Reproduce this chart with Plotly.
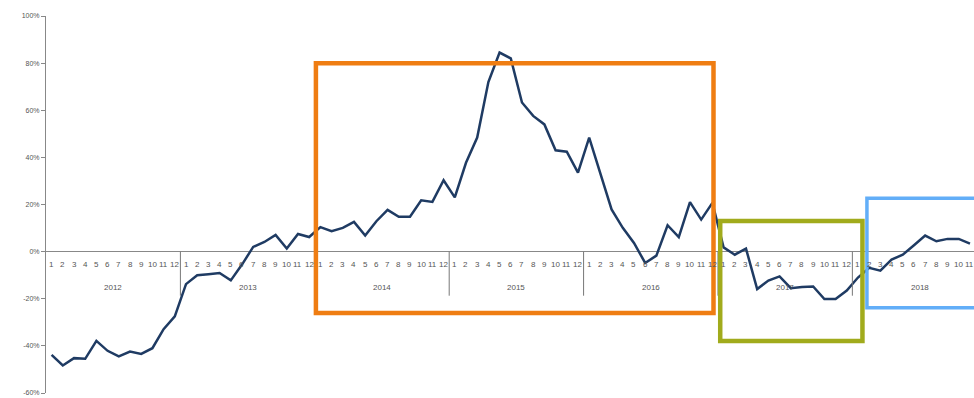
import plotly.graph_objects as go

years = ["2012", "2013", "2014", "2015", "2016", "2017", "2018"]
month_labels = [str(m) for m in range(1, 13)]

v2012 = [-43.8, -48.3, -45.2, -45.5, -37.9, -42.1, -44.5, -42.4, -43.4, -41.0, -32.9, -27.5]
v2013 = [-13.8, -10.0, -9.6, -9.1, -12.2, -5.5, 2.0, 4.1, 7.1, 1.3, 7.5, 6.2]
v2014 = [10.4, 8.7, 10.1, 12.6, 6.8, 12.9, 17.7, 14.8, 14.8, 21.8, 21.1, 30.3]
v2015 = [23.0, 37.7, 48.4, 72.0, 84.5, 82.0, 63.3, 57.6, 54.0, 43.0, 42.4, 33.5]
v2016 = [48.4, 33.5, 17.9, 10.1, 3.7, -4.8, -1.7, 11.2, 6.2, 21.0, 13.6, 20.7]
v2017 = [1.8, -1.3, 1.3, -15.9, -12.3, -10.5, -15.5, -15.0, -14.8, -20.1, -20.1, -16.5]
v2018 = [-11.0, -6.9, -8.1, -3.4, -1.3, 2.7, 6.8, 4.4, 5.4, 5.4, 3.4]

values = v2012 + v2013 + v2014 + v2015 + v2016 + v2017 + v2018
x_idx = list(range(len(values)))

y_ticks = [-60, -40, -20, 0, 20, 40, 60, 80, 100]

# highlight boxes (data coords: month index, percent)
boxes = [
    dict(x0=23.6, x1=59.1, y0=-26.0, y1=80.0, color="#EF7D12", width=4.5),
    dict(x0=59.7, x1=72.4, y0=-37.9, y1=13.0, color="#A1AB1C", width=4.5),
    dict(x0=72.8, x1=86.0, y0=-23.8, y1=22.6, color="#62AEF8", width=3.5),
]

fig = go.Figure()
fig.add_trace(go.Scatter(
    x=x_idx, y=values, mode="lines",
    line=dict(color="#1F3B63", width=2.5),
    hoverinfo="skip", showlegend=False,
))

shapes = []
# year dividers below the zero line
for k in range(1, len(years)):
    shapes.append(dict(type="line", xref="x", yref="y",
                       x0=12 * k - 0.5, x1=12 * k - 0.5, y0=0, y1=-18.7,
                       line=dict(color="#777777", width=1)))
for b in boxes:
    shapes.append(dict(type="rect", xref="x", yref="y",
                       x0=b["x0"], x1=b["x1"], y0=b["y0"], y1=b["y1"],
                       line=dict(color=b["color"], width=b["width"]),
                       fillcolor="rgba(0,0,0,0)", layer="above"))

annotations = []
n_slots = 12 * len(years)
for i in range(n_slots):
    annotations.append(dict(x=i, y=0, xref="x", yref="y",
                            text=month_labels[i % 12], showarrow=False,
                            yanchor="middle", yshift=-13,
                            font=dict(size=8, color="#555555", family="Liberation Sans")))
for k, yr in enumerate(years):
    annotations.append(dict(x=12 * k + 5.5, y=0, xref="x", yref="y",
                            text=yr, showarrow=False,
                            yanchor="middle", yshift=-36,
                            font=dict(size=8, color="#555555", family="Liberation Sans")))

fig.update_layout(
    width=974, height=398,
    margin=dict(l=46, r=0, t=16, b=5),
    paper_bgcolor="white", plot_bgcolor="white",
    shapes=shapes, annotations=annotations,
    xaxis=dict(range=[-0.5, 82.36], showgrid=False, zeroline=False,
               showticklabels=False, ticks="", showline=False),
    yaxis=dict(range=[-60, 100], tickvals=y_ticks,
               ticktext=[f"{v}%" for v in y_ticks],
               showgrid=False, zeroline=True, zerolinecolor="#888888", zerolinewidth=1,
               showline=True, linecolor="#888888", linewidth=1,
               ticks="outside", ticklen=4, tickcolor="#888888",
               tickfont=dict(size=7, color="#555555", family="Liberation Sans")),
)

fig.write_html("out.html")
